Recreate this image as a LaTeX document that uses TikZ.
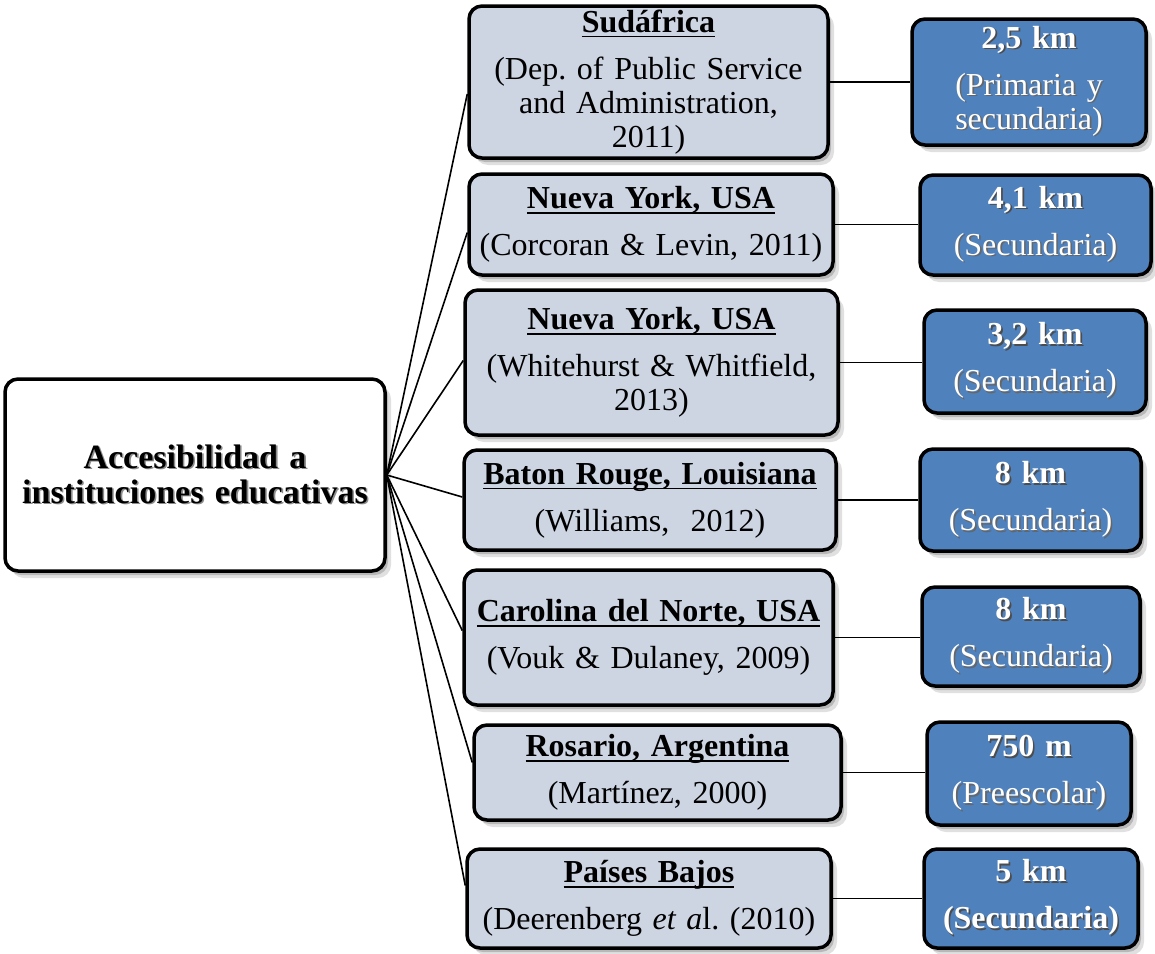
\documentclass[tikz,border=0pt]{standalone}
\usepackage{fontspec}
\setmainfont{Liberation Serif}
\usetikzlibrary{shadows}
\definecolor{midfill}{RGB}{205,212,226}
\definecolor{bluefill}{RGB}{79,129,189}
\frenchspacing
\newsavebox{\ulbox}
\newcommand{\ulin}[1]{\leavevmode\sbox{\ulbox}{#1}\rlap{\rule[-5pt]{\wd\ulbox}{1.6pt}}\usebox{\ulbox}}
\newcommand{\tsh}[2]{\leavevmode\rlap{\kern1.6pt\raisebox{-1.6pt}{\textcolor{#1}{#2}}}#2}
\newcommand{\gap}{\\[13pt]}
\tikzset{
  boxbase/.style={draw=black, line width=3.5pt, rounded corners=13pt, inner sep=0pt,
    align=center, font=\fontsize{32}{34}\selectfont\frenchspacing,
    general shadow={fill=black, opacity=0.18, shadow xshift=3pt, shadow yshift=-4pt},
    general shadow={fill=black, opacity=0.12, shadow xshift=6pt, shadow yshift=-7pt}},
  mainbox/.style={boxbase, fill=white, text=black, font=\fontsize{34}{35}\selectfont\frenchspacing},
  midbox/.style={boxbase, fill=midfill, text=black},
  bluebox/.style={boxbase, fill=bluefill, text=white},
  fanline/.style={draw=black, line width=1.6pt},
  linkline/.style={draw=black, line width=1.9pt}
}
\begin{document}
\begin{tikzpicture}[x=1pt, y=-1pt]
\useasboundingbox (0,0) rectangle (1155,953);

% main box
\node[mainbox, minimum width=380pt, minimum height=192pt, text width=380pt] (main) at (195,475)
  {\bfseries\tsh{black!45}{Accesibilidad a}\\\tsh{black!45}{instituciones educativas}};

% middle boxes
\node[midbox, minimum width=359pt, minimum height=152pt, text width=359pt] (m1) at (648.5,82)
  {\textbf{\ulin{Sudáfrica}}\gap (Dep.\ of Public Service\\ and Administration,\\ 2011)};
\node[midbox, minimum width=364pt, minimum height=101pt, text width=364pt] (m2) at (651,224.5)
  {\textbf{\ulin{Nueva York, USA}}\gap (Corcoran \& Levin, 2011)};
\node[midbox, minimum width=373pt, minimum height=145pt, text width=373pt] (m3) at (651.5,362.5)
  {\textbf{\ulin{Nueva York, USA}}\gap (Whitehurst \& Whitfield,\\ 2013)};
\node[midbox, minimum width=372pt, minimum height=100pt, text width=372pt] (m4) at (650,500)
  {\textbf{\ulin{Baton Rouge, Louisiana}}\gap (Williams,~~2012)};
\node[midbox, minimum width=369pt, minimum height=135pt, text width=369pt] (m5) at (648.5,637.5)
  {\textbf{\ulin{Carolina del Norte, USA}}\gap (Vouk \& Dulaney, 2009)};
\node[midbox, minimum width=367pt, minimum height=95pt, text width=367pt] (m6) at (657.5,772.5)
  {\textbf{\ulin{Rosario, Argentina}}\gap (Martínez, 2000)};
\node[midbox, minimum width=364pt, minimum height=99pt, text width=364pt] (m7) at (649,898.5)
  {\textbf{\ulin{Países Bajos}}\gap (Deerenberg \textit{et a}l.\ (2010)};

% blue boxes
\node[bluebox, minimum width=234pt, minimum height=126pt, text width=234pt] (b1) at (1029,82)
  {\textbf{\tsh{black!70}{2,5 km}}\gap \tsh{black!60}{(Primaria y}\\ \tsh{black!60}{secundaria)}};
\node[bluebox, minimum width=231pt, minimum height=100pt, text width=231pt] (b2) at (1035.5,225)
  {\textbf{\tsh{black!70}{4,1 km}}\gap \tsh{black!60}{(Secundaria)}};
\node[bluebox, minimum width=222pt, minimum height=103pt, text width=222pt] (b3) at (1035,361.5)
  {\textbf{\tsh{black!70}{3,2 km}}\gap \tsh{black!60}{(Secundaria)}};
\node[bluebox, minimum width=221pt, minimum height=102pt, text width=221pt] (b4) at (1030.5,500)
  {\textbf{\tsh{black!70}{8 km}}\gap \tsh{black!60}{(Secundaria)}};
\node[bluebox, minimum width=218pt, minimum height=99pt, text width=218pt] (b5) at (1031,636.5)
  {\textbf{\tsh{black!70}{8 km}}\gap \tsh{black!60}{(Secundaria)}};
\node[bluebox, minimum width=204pt, minimum height=103pt, text width=204pt] (b6) at (1029,773.5)
  {\textbf{\tsh{black!70}{750 m}}\gap \tsh{black!60}{(Preescolar)}};
\node[bluebox, minimum width=214pt, minimum height=99pt, text width=214pt] (b7) at (1031,898.5)
  {\textbf{\tsh{black!70}{5 km}}\gap \textbf{\tsh{black!70}{(Secundaria)}}};

% fan connectors
\foreach \m/\dy in {m1/-12, m2/-8, m3/2, m4/3, m5/7, m6/10, m7/13}{
  \draw[fanline] (main.east) -- ([yshift=\dy pt]\m.west);
}

% links to blue boxes
\foreach \i in {1,...,7}{
  \draw[linkline] (m\i.east) -- (m\i.east -| b\i.west);
}
\end{tikzpicture}
\end{document}
